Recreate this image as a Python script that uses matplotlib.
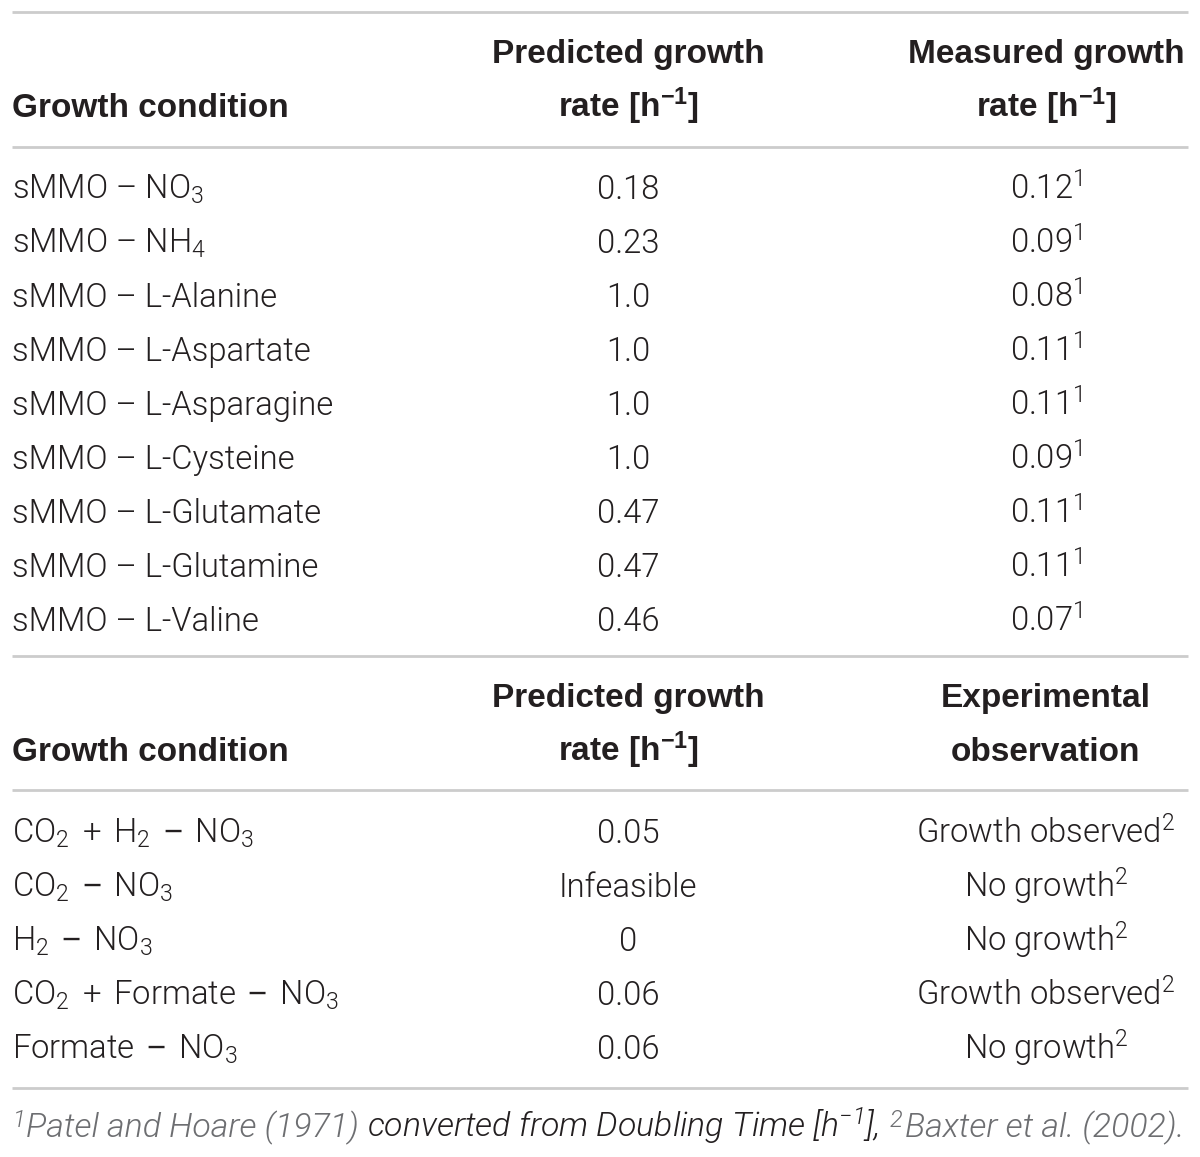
import matplotlib
matplotlib.use("Agg")
import matplotlib.pyplot as plt
from matplotlib import font_manager


def find_light(cands):
    for fam in cands:
        for f in font_manager.fontManager.ttflist:
            if f.name == fam and f.weight in (200, 300, 'light', 'extra light') and f.style == 'normal':
                return fam
    return None


# the body text of the table is thin, use a light sans if one is installed
light = find_light(['Roboto', 'Inter', 'Lato', 'Open Sans', 'Noto Sans'])
body_fam = light if light else 'Liberation Sans'
body_w = 300 if light else 'normal'

plt.rcParams['font.family'] = ['Liberation Sans', 'DejaVu Sans']
plt.rcParams['mathtext.fontset'] = 'custom'
plt.rcParams['mathtext.rm'] = body_fam + (':light' if light else '')
plt.rcParams['mathtext.it'] = body_fam + ':italic' + (':light' if light else '')
plt.rcParams['mathtext.bf'] = 'Liberation Sans:bold'
plt.rcParams['mathtext.sf'] = 'Liberation Sans'   # long minus sign of table 2

PLUS = " $\\,\\mathregular{+}\\,$ "
MINUS = " $\\,\\mathsf{-}\\,$ "

# table 1
conditions1 = ["sMMO – NO$_\\mathregular{3}$", "sMMO – NH$_\\mathregular{4}$",
               "sMMO – L-Alanine", "sMMO – L-Aspartate", "sMMO – L-Asparagine",
               "sMMO – L-Cysteine", "sMMO – L-Glutamate", "sMMO – L-Glutamine",
               "sMMO – L-Valine"]
predicted1 = ["0.18", "0.23", "1.0", "1.0", "1.0", "1.0", "0.47", "0.47", "0.46"]
measured1 = ["0.12", "0.09", "0.08", "0.11", "0.11", "0.09", "0.11", "0.11", "0.07"]
ref1 = "1"

# table 2
conditions2 = ["CO$_\\mathregular{2}$" + PLUS + "H$_\\mathregular{2}$" + MINUS + "NO$_\\mathregular{3}$",
               "CO$_\\mathregular{2}$" + MINUS + "NO$_\\mathregular{3}$",
               "H$_\\mathregular{2}$" + MINUS + "NO$_\\mathregular{3}$",
               "CO$_\\mathregular{2}$" + PLUS + "Formate" + MINUS + "NO$_\\mathregular{3}$",
               "Formate" + MINUS + "NO$_\\mathregular{3}$"]
predicted2 = ["0.05", "Infeasible", "0", "0.06", "0.06"]
observed2 = ["Growth observed", "No growth", "No growth", "Growth observed", "No growth"]
ref2 = "2"

header1 = ["Growth condition", "Predicted growth\nrate [h$^{\\mathbf{-1}}$]",
           "Measured growth\nrate [h$^{\\mathbf{-1}}$]"]
header2 = ["Growth condition", "Predicted growth\nrate [h$^{\\mathbf{-1}}$]",
           "Experimental\nobservation"]

W, H = 1200, 1157
fig = plt.figure(figsize=(W / 100, H / 100), dpi=100)
ax = fig.add_axes([0, 0, 1, 1])
ax.set_xlim(0, W)
ax.set_ylim(H, 0)
ax.axis('off')
renderer = fig.canvas.get_renderer()

txt = '#231f20'
grey = '#6d6e71'
rule = '#cccccc'
hfs = 24
xl, xc2, xc3 = 12, 628, 1046
rowh = 54

# body size so that the longest label is as wide as in the original
probe = ax.text(0, 0, "sMMO – L-Asparagine", fontsize=23, family=body_fam, weight=body_w)
fs = 23 * 322 / probe.get_window_extent(renderer).width
probe.remove()


def hline(y):
    ax.plot([12, 1188], [y, y], color=rule, lw=2, solid_capstyle='butt')


def header(y0, labels):
    ax.text(xl, y0 + rowh, labels[0], fontsize=hfs, weight='bold', color=txt,
            va='baseline', ha='left')
    for x, lab in [(xc2, labels[1]), (xc3, labels[2])]:
        l1, l2 = lab.split("\n")
        ax.text(x, y0, l1, fontsize=hfs, weight='bold', color=txt, va='baseline', ha='center')
        ax.text(x, y0 + rowh, l2, fontsize=hfs, weight='bold', color=txt, va='baseline', ha='center')


def body(y0, conds, pred, third, ref):
    kw = dict(fontsize=fs, color=txt, va='baseline', family=body_fam, weight=body_w)
    for i in range(len(conds)):
        y = y0 + i * rowh
        ax.text(xl, y, conds[i], ha='left', **kw)
        ax.text(xc2, y, pred[i], ha='center', **kw)
        ax.text(xc3, y, third[i] + "$^\\mathregular{" + ref + "}$", ha='center', **kw)


hline(12)
header(63, header1)
hline(147)
body(199, conditions1, predicted1, measured1, ref1)
hline(656)
header(707, header2)
hline(790)
body(843, conditions2, predicted2, observed2, ref2)
hline(1088)

# footnote, italic, pieces of different colours; gap = extra space after piece (in em)
pieces = [("$^\\mathregular{1}$", grey, 0.05), ("Patel and Hoare (1971)", grey, 0.25),
          ("converted from Doubling Time [h$^\\mathregular{-1}$],", txt, 0.3),
          ("$^\\mathregular{2}$", grey, 0.05), ("Baxter et al. (2002).", grey, 0)]


def draw_foot(size):
    arts = []
    x = xl
    for s, c, gap in pieces:
        t = ax.text(x, 1137, s, fontsize=size, style='italic', color=c,
                    va='baseline', ha='left', family=body_fam, weight=body_w)
        x += t.get_window_extent(renderer).width + gap * size * 100 / 72
        arts.append(t)
    return arts, x


arts, xend = draw_foot(22)
size = 22 * (1183 - xl) / (xend - xl)
for a in arts:
    a.remove()
draw_foot(size)

fig.savefig("out.png", dpi=100)
